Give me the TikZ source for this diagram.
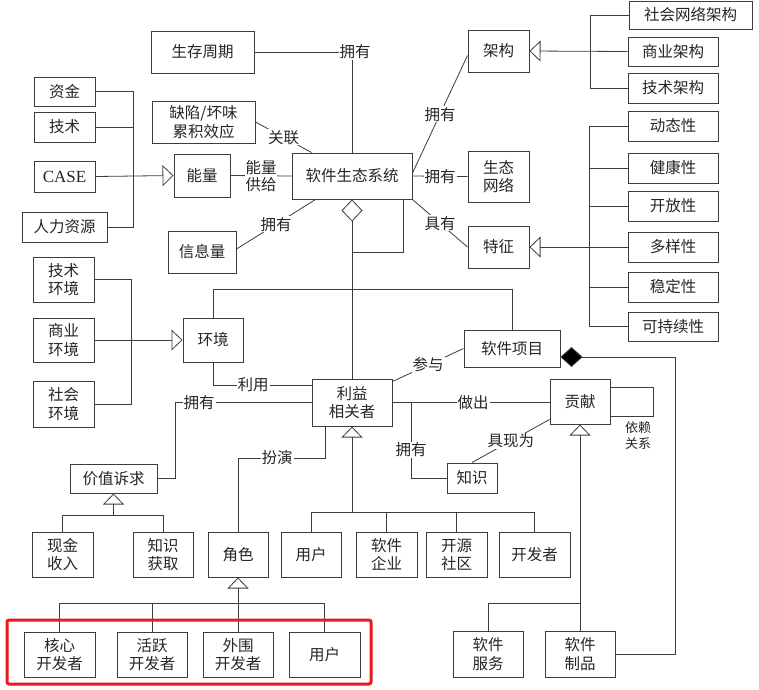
\documentclass[tikz,border=0pt]{standalone}
\usepackage{fontspec}
\setmainfont{Liberation Serif}
\newfontfamily\cjk{Noto Sans CJK SC}
\usetikzlibrary{arrows.meta,calc}
\definecolor{hl}{RGB}{236,24,30}
\definecolor{inkc}{RGB}{60,60,60}

\begin{document}
\begin{tikzpicture}[x=1pt,y=-1pt,
  box/.style={draw=inkc, line width=1pt, fill=white, inner sep=0pt, align=center,
    text=black!85, font=\cjk\fontsize{15.5}{18.5}\selectfont},
  sz/.style 2 args={minimum width=#1pt, minimum height=#2pt},
  lbl/.style={fill=white, inner sep=1pt, text=black!85, align=center,
    font=\cjk\fontsize{15.5}{17}\selectfont},
  wire/.style={draw=inkc, line width=0.8pt},
  inh/.style={wire, -{Triangle[open,length=11pt,width=21pt]}},
  agg/.style={wire, -{Diamond[open,length=22pt,width=21pt]}},
  comp/.style={wire, -{Diamond[length=22pt,width=20pt,fill=black]}},
]
\fill[white] (0,0) rectangle (759,689);
\useasboundingbox (0,0) rectangle (759,689);

% ---- boxes, top area
\node[box,sz={103}{42}] (life) at (202.5,52) {生存周期};
\node[box,sz={61}{29}] (fund) at (64.5,91.5) {资金};
\node[box,sz={61}{30}] (tech) at (64.5,127) {技术};
\node[box,sz={61}{31},font=\rmfamily\fontsize{17}{20}\selectfont] (case) at (64.5,176.5) {CASE};
\node[box,sz={85}{30}] (hr) at (64.5,227) {人力资源};
\node[box,sz={56}{43}] (energy) at (202,175.5) {能量};
\node[box,sz={103}{42}] (defect) at (203.5,122) {缺陷/坏味\\累积效应};
\node[box,sz={120}{46}] (sys) at (352,176) {软件生态系统};
\node[box,sz={68}{42}] (info) at (202,252) {信息量};
\node[box,sz={61}{42}] (arch) at (498.5,51) {架构};
\node[box,sz={61}{51}] (net) at (498.5,176.5) {生态\\网络};
\node[box,sz={61}{42}] (feat) at (498.5,247) {特征};

% ---- architecture kinds
\node[box,sz={123}{28}] (asoc) at (690.5,15) {社会网络架构};
\node[box,sz={90}{29}] (abiz) at (673,51.5) {商业架构};
\node[box,sz={90}{30}] (atec) at (673,88) {技术架构};

% ---- characteristics
\node[box,sz={90}{30}] (fdyn) at (673,126) {动态性};
\node[box,sz={90}{30}] (fhea) at (673,168) {健康性};
\node[box,sz={90}{30}] (fopen) at (673,206) {开放性};
\node[box,sz={90}{30}] (fdiv) at (673,247) {多样性};
\node[box,sz={90}{30}] (fsta) at (673,287) {稳定性};
\node[box,sz={90}{29}] (fsus) at (673,326.5) {可持续性};

% ---- environment
\node[box,sz={61}{45}] (etec) at (63.5,279.5) {技术\\环境};
\node[box,sz={61}{44}] (ebiz) at (63.5,340) {商业\\环境};
\node[box,sz={61}{46}] (esoc) at (63.5,404) {社会\\环境};
\node[box,sz={60}{44}] (env) at (213,340) {环境};

% ---- middle
\node[box,sz={80}{47}] (stake) at (352,402.5) {利益\\相关者};
\node[box,sz={96}{37}] (proj) at (512,348.5) {软件项目};
\node[box,sz={60}{45}] (contr) at (580,401.5) {贡献};
\node[box,sz={50}{30}] (know) at (472,478) {知识};
\node[box,sz={87}{29}] (value) at (113.5,478.5) {价值诉求};

% ---- row of sub-kinds
\node[box,sz={61}{45}] (cash) at (62.5,554.5) {现金\\收入};
\node[box,sz={60}{45}] (kacq) at (163,554.5) {知识\\获取};
\node[box,sz={60}{45}] (role) at (238,554.5) {角色};
\node[box,sz={60}{45}] (user1) at (311,554.5) {用户};
\node[box,sz={61}{45}] (ent) at (386.5,554.5) {软件\\企业};
\node[box,sz={61}{45}] (osc) at (456.5,554.5) {开源\\社区};
\node[box,sz={71}{45}] (dev) at (534.5,554.5) {开发者};

% ---- roles
\node[box,sz={71}{45}] (core) at (59.5,654.5) {核心\\开发者};
\node[box,sz={70}{45}] (active) at (152,654.5) {活跃\\开发者};
\node[box,sz={70}{45}] (peri) at (238,654.5) {外围\\开发者};
\node[box,sz={71}{45}] (user2) at (324.5,654.5) {用户};

% ---- contributions
\node[box,sz={70}{46}] (svc) at (488,654) {软件\\服务};
\node[box,sz={70}{46}] (prod) at (580,654) {软件\\制品};

% ================= connectors
% life cycle
\coordinate (c1) at (352,52);
\draw[wire] (life.east) -- (c1) -- (sys.north);
\node[lbl] at (355,52) {拥有};

% defects
\draw[wire] (defect.east) -- ($(sys.north west)+(20,0)$) node[lbl,midway] {关联};

% energy supply
\draw[wire] (energy.east) -- (sys.west) node[lbl,midway,inner sep=0.5pt] {能量\\供给};

% information
\draw[wire] ($(info.east)+(0,-3)$) -- ($(sys.south west)+(24,0)$) node[lbl,midway] {拥有};

% architecture / network / features
\draw[wire] ($(sys.east)+(0,-3)$) -- ($(arch.south west)+(0,-17)$) node[lbl,midway] {拥有};
\draw[wire] (sys.east) -- (net.west) node[lbl,midway] {拥有};
\draw[wire] (sys.south east) -- (feat.west) node[lbl,midway] {具有};

% architecture kinds
\draw[wire] (asoc.west) -- ++(-38,0) |- (atec.west);
\draw[inh] (abiz.west) -- (arch.east);

% characteristics
\draw[wire] (fdyn.west) -- ++(-38,0) |- (fsus.west);
\draw[wire] (fhea.west) -- ++(-38,0);
\draw[wire] (fopen.west) -- ++(-38,0);
\draw[wire] (fsta.west) -- ++(-38,0);
\draw[inh] (fdiv.west) -- (feat.east);

% energy sources
\draw[wire] (fund.east) -- ++(38,0) |- (hr.east);
\draw[wire] (tech.east) -- ++(38,0);
\draw[inh] (case.east) -- (energy.west);

% environment kinds
\draw[wire] (etec.east) -- ++(37,0) |- (esoc.east);
\draw[inh] (ebiz.east) -- (env.west);

% environment to project
\draw[wire] (env.north) -- ++(0,-28) -| (proj.north);

% ecosystem aggregation
\draw[agg] (stake.north) -- (sys.south);
\draw[wire] ($(sys.south)+(51,0)$) -- ++(0,53) -- ++(-51,0);

% uses
\coordinate (u1) at (213,385);
\draw[wire] (env.south) -- (u1) -- (u1 -| stake.west);
\node[lbl] at (253,385) {利用};

% value claims
\coordinate (v1) at (175,402.5);
\draw[wire] (stake.west) -- (v1) |- (value.east);
\node[lbl] at (199,402.5) {拥有};

% plays
\coordinate (r1) at (325,458);
\draw[wire] (stake.south -| r1) -- (r1) -| (role.north);
\node[lbl] at (277,458) {扮演};

% participates
\draw[wire] ($(stake.north east)+(0,3)$) -- (proj.west) node[lbl,midway] {参与};

% makes
\draw[wire] (stake.east) -- (stake.east -| contr.west);
\node[lbl] at (473,402.5) {做出};

% owns knowledge
\coordinate (k1) at (411,402.5);
\draw[wire] (k1) |- (know.west);
\node[lbl] at (411,450) {拥有};

% realised as
\draw[wire] (know.north) -- ($(contr.south west)+(0,-5)$) node[lbl,midway] {具现为};

% dependency loop
\draw[wire] ($(contr.north east)+(0,9)$) -- ++(43,0) -- ++(0,29) -- ++(-43,0);
\node[text=black!85, align=center, font=\cjk\fontsize{13}{16}\selectfont] at (638,436) {依赖\\关系};

% contribution kinds
\draw[inh] (prod.north) -- (contr.south);
\draw[wire] (svc.north) |- ($(prod.north)+(0,-27)$);

% composition into project
\draw[comp] (prod.east) -- ++(60,0) |- ($(proj.east)+(0,8.5)$);

% stakeholder kinds
\coordinate (s1) at (352,513);
\draw[inh] (s1) -- (stake.south);
\draw[wire] (user1.north) -- ++(0,-19) -| (dev.north);
\draw[wire] (ent.north) -- ++(0,-19);
\draw[wire] (osc.north) -- ++(0,-19);

% role kinds
\draw[inh] (peri.north) -- (role.south);
\draw[wire] (core.north) -- ++(0,-28) -| (user2.north);
\draw[wire] (active.north) -- ++(0,-28);

% value kinds
\draw[wire] (cash.north) -- ++(0,-16) coordinate (vb) -| (kacq.north);
\draw[inh] (vb -| value.south) -- (value.south);

% highlight frame
\draw[hl, line width=3pt, rounded corners=2pt] (7,620) rectangle (371,684);
\end{tikzpicture}
\end{document}
